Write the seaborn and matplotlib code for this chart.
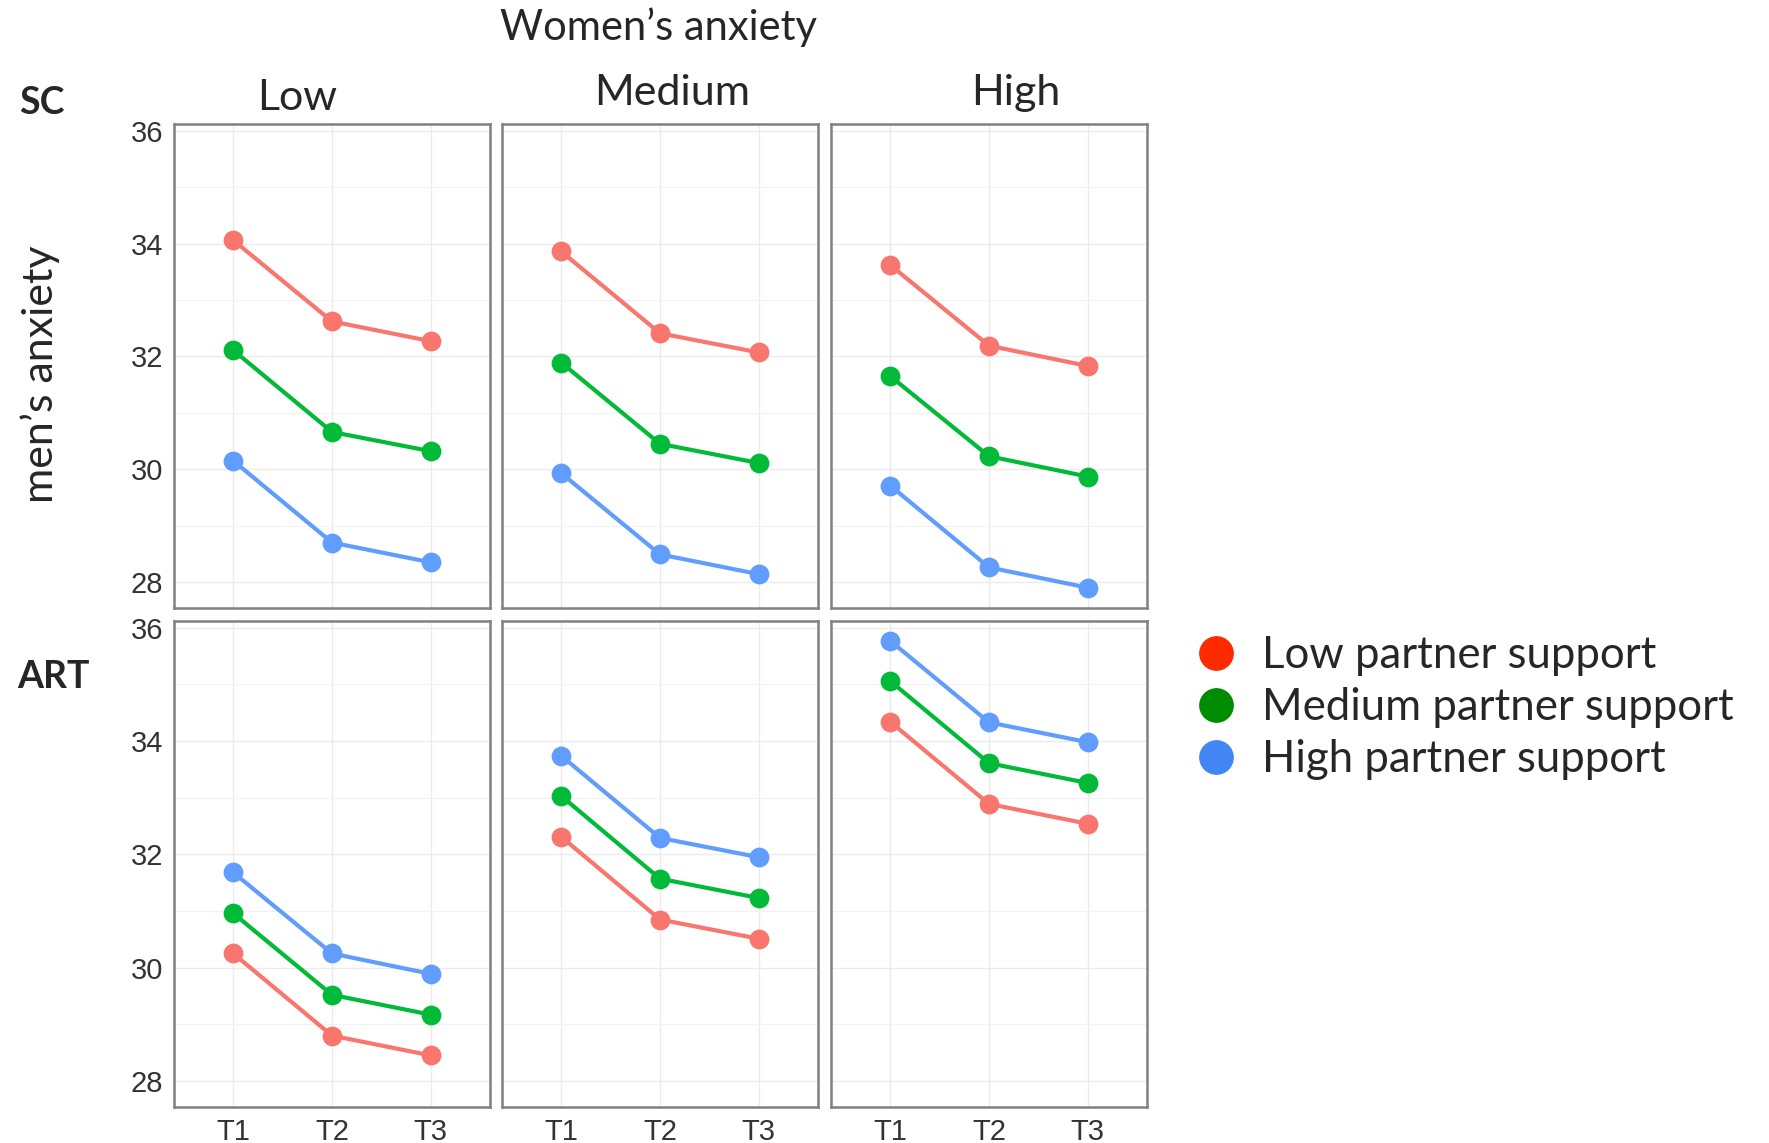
import pandas as pd
import matplotlib.pyplot as plt
import seaborn as sns
from matplotlib.lines import Line2D
from matplotlib.ticker import MultipleLocator

# 測定時点と条件
times = ["T1", "T2", "T3"]
women_levels = ["Low", "Medium", "High"]
support_levels = ["Low partner support", "Medium partner support", "High partner support"]

# 各パネルの値 (行: Low / Medium / High partner support)
sc_low = [[34.06, 32.62, 32.27], [32.11, 30.66, 30.32], [30.15, 28.70, 28.35]]
sc_medium = [[33.86, 32.41, 32.07], [31.89, 30.45, 30.11], [29.93, 28.49, 28.14]]
sc_high = [[33.62, 32.19, 31.83], [31.65, 30.23, 29.87], [29.71, 28.26, 27.90]]
art_low = [[30.25, 28.80, 28.45], [30.96, 29.52, 29.17], [31.68, 30.25, 29.89]]
art_medium = [[32.31, 30.85, 30.51], [33.03, 31.57, 31.23], [33.74, 32.29, 31.95]]
art_high = [[34.34, 32.89, 32.54], [35.06, 33.61, 33.26], [35.77, 34.33, 33.98]]

panels = {
    ("SC", "Low"): sc_low, ("SC", "Medium"): sc_medium, ("SC", "High"): sc_high,
    ("ART", "Low"): art_low, ("ART", "Medium"): art_medium, ("ART", "High"): art_high,
}

rows = []
for (group, level), vals in panels.items():
    for support, series in zip(support_levels, vals):
        for t, v in zip(times, series):
            rows.append({"group": group, "women": level, "support": support, "time": t, "value": v})
df = pd.DataFrame(rows)

line_colors = ["#F8766D", "#00BA38", "#619CFF"]
legend_colors = ["#FF2A00", "#008C00", "#4286F5"]

sns.set_style("white")
plt.rcParams["font.family"] = ["Liberation Sans", "DejaVu Sans"]

fig = plt.figure(figsize=(17.69, 11.43), dpi=100)

W, H = 1769, 1143
col_x = [174, 502, 831]
col_w = 316
row_y = [(124, 608), (621, 1107)]

for r, group in enumerate(["SC", "ART"]):
    top, bottom = row_y[r]
    for c, level in enumerate(women_levels):
        ax = fig.add_axes([col_x[c] / W, 1 - bottom / H, col_w / W, (bottom - top) / H])
        sub = df[(df["group"] == group) & (df["women"] == level)]
        sns.pointplot(data=sub, x="time", y="value", hue="support", order=times,
                      hue_order=support_levels, palette=line_colors, ax=ax,
                      markersize=12, linewidth=3.0, errorbar=None, legend=False)
        ax.set_xlim(-0.6, 2.6)
        ax.set_ylim(27.54, 36.12)
        ax.yaxis.set_major_locator(MultipleLocator(2))
        ax.yaxis.set_minor_locator(MultipleLocator(1))
        ax.grid(which="major", color="#EBEBEB", lw=1.0)
        ax.grid(which="minor", axis="y", color="#F2F2F2", lw=0.8)
        ax.set_axisbelow(True)
        for sp in ax.spines.values():
            sp.set_color("#808080")
            sp.set_linewidth(1.8)
        ax.set_xlabel("")
        ax.set_ylabel("")
        ax.tick_params(axis="both", which="major", length=5, width=1.3, color="#444444",
                       labelsize=21, labelcolor="#333333", pad=3)
        ax.tick_params(axis="y", which="minor", length=0)
        if c != 0:
            ax.tick_params(axis="y", left=False, labelleft=False)
        if r == 0:
            ax.tick_params(axis="x", bottom=False, labelbottom=False)

# 見出し
hdr = ["Lato", "DejaVu Sans"]
fig.text(658 / W, 1 - 27 / H, "Women\u2019s anxiety", ha="center", va="center", fontsize=30, family=hdr)
for cx, cy, lab in [(297, 98, "Low"), (672, 93, "Medium"), (1016, 93, "High")]:
    fig.text(cx / W, 1 - cy / H, lab, ha="center", va="center", fontsize=31, family=hdr)
fig.text(42 / W, 1 - 103 / H, "SC", ha="center", va="center", fontsize=27, fontweight="bold", family=hdr)
fig.text(53 / W, 1 - 677 / H, "ART", ha="center", va="center", fontsize=27, fontweight="bold", family=hdr)
fig.text(40 / W, 1 - 374 / H, "men\u2019s anxiety", ha="center", va="center", rotation=90,
         fontsize=31, family=hdr)

# 凡例
handles = [Line2D([], [], marker="o", linestyle="", color=col, markersize=24) for col in legend_colors]
fig.legend(handles, support_levels, loc="upper left", bbox_to_anchor=(1177 / W, 1 - 618 / H),
           frameon=False, prop={"family": hdr, "size": 31.5}, handletextpad=0.55,
           labelspacing=0.25, handlelength=1.0, borderaxespad=0)

fig.savefig("out.png", dpi=100)
